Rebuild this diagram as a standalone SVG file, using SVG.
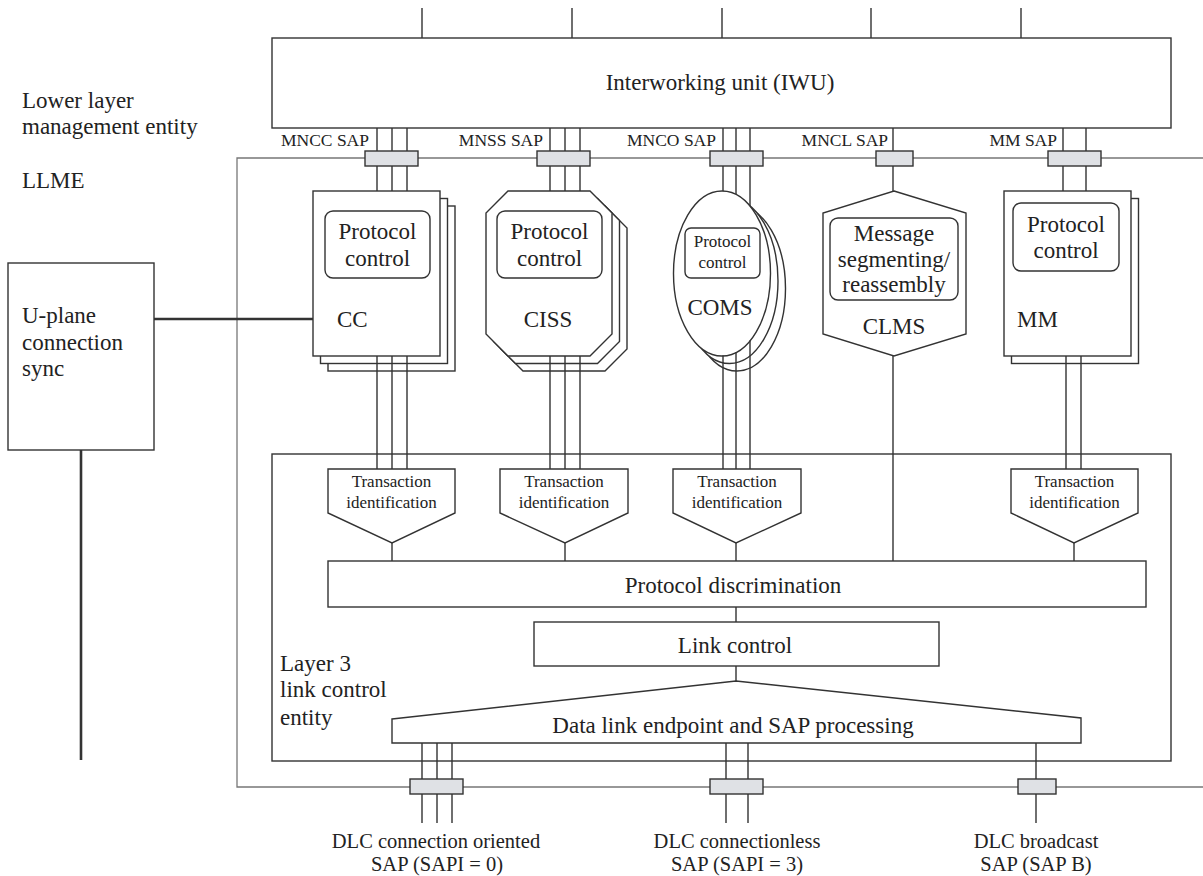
<svg xmlns="http://www.w3.org/2000/svg" width="1203" height="876" viewBox="0 0 1203 876">
<style>
.ln{stroke:#333;stroke-width:1.4;fill:none}
.thk{stroke:#333;stroke-width:2.6;fill:none}
.gr{stroke:#777;stroke-width:1.3;fill:none}
.box{fill:#fff;stroke:#333;stroke-width:1.4}
.sap{fill:#dfe1e5;stroke:#333;stroke-width:1.4}
text{font-family:'Liberation Serif','Times New Roman',serif;fill:#222}
.t23{font-size:23px}
.t21{font-size:20.5px}
.t17{font-size:17px}
.sl{font-size:17.5px}
.c{text-anchor:middle}
.e{text-anchor:end}
</style>
<rect width="1203" height="876" fill="#fff"/>

<g id="llme-frame">
<path class="gr" d="M1203,158 H237 V787 H1203"/>
</g>

<g id="labels">
<text class="t23" x="22" y="108">Lower layer</text>
<text class="t23" x="22" y="134">management entity</text>
<text class="t23" x="22" y="188">LLME</text>
</g>

<g id="connectors">
<path class="ln" d="M422,8V38 M572,8V38 M722,8V38 M871,8V38 M1021,8V38"/>
<path class="ln" d="M377,128V191 M392,128V191 M407,128V191"/>
<path class="ln" d="M550,128V191 M565,128V191 M580,128V191"/>
<path class="ln" d="M723,128V200 M736,128V200 M750,128V210"/>
<path class="ln" d="M893,128V191"/>
<path class="ln" d="M1063,128V191 M1086,128V191"/>
<path class="thk" d="M154,319H313 M81,450V760"/>
</g>

<g id="iwu">
<rect class="box" x="272" y="38" width="899" height="90"/>
<text class="t23 c" x="720" y="90">Interworking unit (IWU)</text>
</g>

<g id="saps-top">
<rect class="sap" x="365" y="151" width="53" height="15"/>
<rect class="sap" x="537" y="151" width="53" height="15"/>
<rect class="sap" x="710" y="151" width="53" height="15"/>
<rect class="sap" x="876" y="151" width="37" height="15"/>
<rect class="sap" x="1048" y="151" width="53" height="15"/>
<text class="sl e" x="369" y="146">MNCC SAP</text>
<text class="sl e" x="543" y="146">MNSS SAP</text>
<text class="sl e" x="716" y="146">MNCO SAP</text>
<text class="sl e" x="888" y="146">MNCL SAP</text>
<text class="sl e" x="1057" y="146">MM SAP</text>
</g>

<g id="uplane">
<rect class="box" x="8" y="263" width="146" height="187"/>
<text class="t23" x="22" y="323">U-plane</text>
<text class="t23" x="22" y="350">connection</text>
<text class="t23" x="22" y="376">sync</text>
</g>

<g id="cc">
<rect class="box" x="328" y="206" width="127" height="165"/>
<rect class="box" x="320.5" y="198.5" width="127" height="165"/>
<rect class="box" x="313" y="191" width="127" height="165"/>
<rect class="box" x="325" y="211" width="105" height="67" rx="8"/>
<text class="t23 c" x="377.5" y="239">Protocol</text>
<text class="t23 c" x="377.5" y="266">control</text>
<text class="t23" x="337" y="327">CC</text>
</g>

<g id="ciss">
<polygon class="box" points="523,206 605,206 627,228 627,349 605,371 523,371 501,349 501,228"/>
<polygon class="box" points="515.5,198.5 597.5,198.5 619.5,220.5 619.5,341.5 597.5,363.5 515.5,363.5 493.5,341.5 493.5,220.5"/>
<polygon class="box" points="508,191 590,191 612,213 612,334 590,356 508,356 486,334 486,213"/>
<rect class="box" x="497" y="211" width="105" height="67" rx="8"/>
<text class="t23 c" x="549.5" y="239">Protocol</text>
<text class="t23 c" x="549.5" y="266">control</text>
<text class="t23 c" x="548" y="327">CISS</text>
</g>

<g id="coms">
<ellipse class="box" cx="737" cy="288.5" rx="48.5" ry="82.5"/>
<ellipse class="box" cx="729.5" cy="281" rx="48.5" ry="82.5"/>
<ellipse class="box" cx="722" cy="273.5" rx="48.5" ry="82.5"/>
<rect class="box" x="685" y="228" width="75" height="50" rx="6"/>
<text class="t17 c" x="722.5" y="247">Protocol</text>
<text class="t17 c" x="722.5" y="268">control</text>
<text class="t23 c" x="720" y="315">COMS</text>
</g>

<g id="clms">
<polygon class="box" points="894,191 966,213 966,334 894,356 823,334 823,213"/>
<rect class="box" x="830" y="218" width="128" height="82" rx="8"/>
<text class="t23 c" x="894" y="241">Message</text>
<text class="t23 c" x="894" y="267">segmenting/</text>
<text class="t23 c" x="894" y="292">reassembly</text>
<text class="t23 c" x="894" y="334">CLMS</text>
</g>

<g id="mm">
<rect class="box" x="1011.5" y="198.5" width="127" height="165"/>
<rect class="box" x="1004" y="191" width="127" height="165"/>
<rect class="box" x="1013" y="203" width="106" height="68" rx="8"/>
<text class="t23 c" x="1066" y="232">Protocol</text>
<text class="t23 c" x="1066" y="258">control</text>
<text class="t23" x="1017" y="327">MM</text>
</g>

<g id="layer3">
<rect class="box" x="272" y="454" width="899" height="307" fill="none"/>
<text class="t23" x="280" y="671">Layer 3</text>
<text class="t23" x="280" y="697">link control</text>
<text class="t23" x="280" y="725">entity</text>
</g>

<g id="connectors-lower">
<path class="ln" d="M377,356V469 M392,356V469 M407,356V469"/>
<path class="ln" d="M550,356V469 M565,356V469 M580,356V469"/>
<path class="ln" d="M723,355.5V469 M736,352V469 M750,340.5V469"/>
<path class="ln" d="M893,356V561"/>
<path class="ln" d="M1066,356V469 M1081,356V469"/>
<path class="ln" d="M392,543V561 M565,543V561 M736,543V561 M1074,543V561"/>
<path class="ln" d="M736,607V622 M736,666V681"/>
<path class="ln" d="M422,743V823 M437,743V823 M452,743V823"/>
<path class="ln" d="M726,743V823 M748,743V823"/>
<path class="ln" d="M1036,743V823"/>
</g>

<g id="trans-cc">
<polygon class="box" points="328,469 455,469 455,513 392,543 328,513"/>
<text class="t17 c" x="391.5" y="487">Transaction</text>
<text class="t17 c" x="391.5" y="508">identification</text>
</g>
<g id="trans-ciss">
<polygon class="box" points="500,469 628,469 628,513 565,543 500,513"/>
<text class="t17 c" x="564" y="487">Transaction</text>
<text class="t17 c" x="564" y="508">identification</text>
</g>
<g id="trans-coms">
<polygon class="box" points="673,469 801,469 801,513 736,543 673,513"/>
<text class="t17 c" x="737" y="487">Transaction</text>
<text class="t17 c" x="737" y="508">identification</text>
</g>
<g id="trans-mm">
<polygon class="box" points="1011,469 1138,469 1138,513 1074,543 1011,513"/>
<text class="t17 c" x="1074.5" y="487">Transaction</text>
<text class="t17 c" x="1074.5" y="508">identification</text>
</g>

<g id="protocol-discrimination">
<rect class="box" x="328" y="561" width="818" height="46"/>
<text class="t23 c" x="733" y="593">Protocol discrimination</text>
</g>

<g id="link-control">
<rect class="box" x="534" y="622" width="405" height="44"/>
<text class="t23 c" x="735" y="653">Link control</text>
</g>

<g id="data-link">
<polygon class="box" points="392,719 736,681 1081,718 1081,743 392,743"/>
<text class="t23 c" x="733" y="733">Data link endpoint and SAP processing</text>
</g>

<g id="saps-bottom">
<rect class="sap" x="410" y="779" width="53" height="15"/>
<rect class="sap" x="710" y="779" width="53" height="15"/>
<rect class="sap" x="1018" y="779" width="38" height="15"/>
<text class="t21 c" x="436" y="848">DLC connection oriented</text>
<text class="t21 c" x="437" y="871">SAP (SAPI = 0)</text>
<text class="t21 c" x="737" y="848">DLC connectionless</text>
<text class="t21 c" x="737" y="871">SAP (SAPI = 3)</text>
<text class="t21 c" x="1036" y="848">DLC broadcast</text>
<text class="t21 c" x="1036" y="871">SAP (SAP B)</text>
</g>
</svg>
